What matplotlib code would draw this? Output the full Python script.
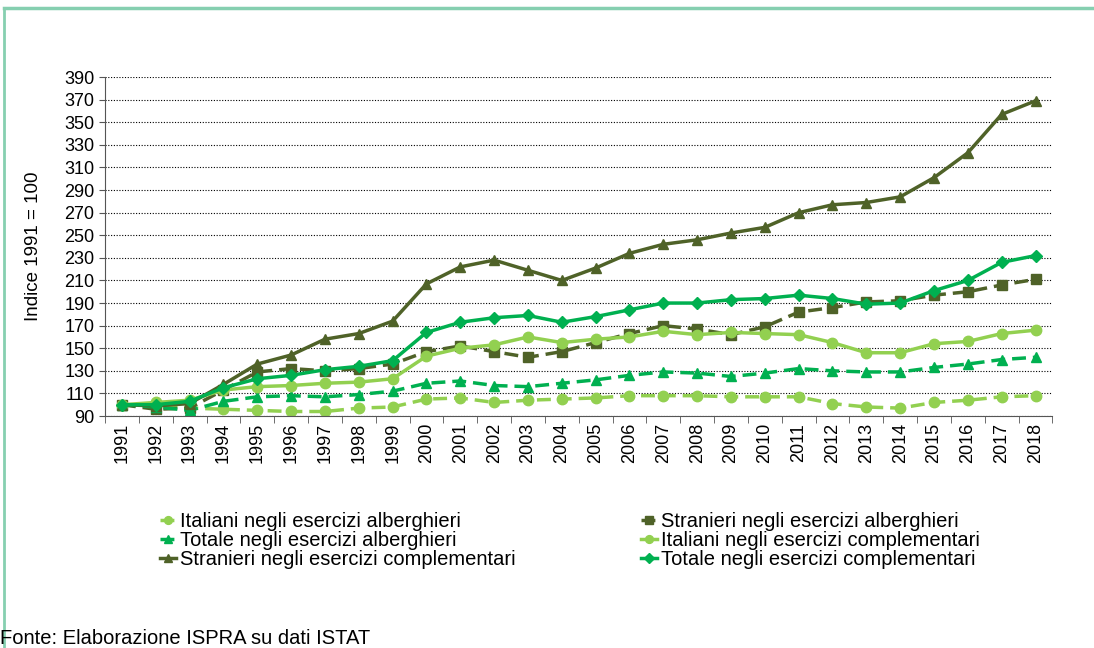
import numpy as np
import matplotlib.pyplot as plt
from matplotlib.lines import Line2D

anni = list(range(1991, 2019))

italiani_alb = [100, 99, 97, 96, 95, 94, 94, 97, 98, 105, 106, 102, 104, 105,
                106, 108, 108, 108, 107, 107, 107, 101, 98, 97, 102, 104, 107, 108]
stranieri_alb = [100, 96, 97, 113, 129, 132, 130, 132, 136, 147, 152, 147, 142, 147,
                 155, 163, 170, 167, 162, 169, 182, 186, 191, 192, 197, 200, 206, 211]
totale_alb = [100, 98, 95, 103, 107, 108, 107, 109, 112, 119, 121, 117, 116, 119,
              122, 126, 129, 128, 125, 128, 132, 130, 129, 129, 133, 136, 140, 142]
italiani_compl = [100, 102, 104, 113, 116, 117, 119, 120, 123, 143, 150, 153, 160, 155,
                  158, 160, 165, 162, 164, 163, 162, 155, 146, 146, 154, 156, 163, 166]
stranieri_compl = [100, 99, 101, 118, 136, 144, 158, 163, 174, 207, 222, 228, 219, 210,
                   221, 234, 242, 246, 252, 257, 270, 277, 279, 284, 301, 323, 357, 369]
totale_compl = [100, 100, 103, 115, 123, 126, 131, 134, 139, 164, 173, 177, 179, 173,
                178, 184, 190, 190, 193, 194, 197, 194, 189, 190, 201, 210, 226, 232]

etichette = ["Italiani negli esercizi alberghieri",
             "Stranieri negli esercizi alberghieri",
             "Totale negli esercizi alberghieri",
             "Italiani negli esercizi complementari",
             "Stranieri negli esercizi complementari",
             "Totale negli esercizi complementari"]

chiaro = "#92d050"
scuro = "#4f6228"
verde = "#00b050"

plt.rcParams['font.family'] = ['Liberation Sans', 'DejaVu Sans']

fig = plt.figure(figsize=(10.94, 6.48), dpi=100)
ax = fig.add_axes([0.096, 0.358, 0.866, 0.523])

serie = [
    (italiani_alb, chiaro, '--', 'o', 7.5),
    (stranieri_alb, scuro, '--', 's', 7.5),
    (totale_alb, verde, '--', '^', 7.5),
    (italiani_compl, chiaro, '-', 'o', 7.5),
    (stranieri_compl, scuro, '-', '^', 7.5),
    (totale_compl, verde, '-', 'D', 6.5),
]
linee = []
for (vals, col, ls, mk, ms), lab in zip(serie, etichette):
    l, = ax.plot(anni, vals, color=col, linestyle=ls, marker=mk, markersize=ms,
                 linewidth=2.5, label=lab, dashes=(4, 2) if ls == '--' else (None, None))
    linee.append(l)

ax.set_ylim(90, 390)
ax.set_yticks(np.arange(90, 391, 20))
ax.set_xlim(1990.5, 2018.5)
ax.set_xticks(anni)
ax.set_xticklabels([str(a) for a in anni], rotation=90, fontsize=13)
ax.set_xticks(np.arange(1990.5, 2019, 1), minor=True)
ax.tick_params(axis='x', which='major', length=0, pad=5)
ax.tick_params(axis='x', which='minor', length=5, color='#555555')
ax.tick_params(axis='y', labelsize=13, length=4, color='#555555')
ax.grid(axis='y', color='black', linestyle=(0, (1, 1.5)), linewidth=0.8)
ax.set_axisbelow(True)
for s in ['top', 'right']:
    ax.spines[s].set_visible(False)
ax.spines['left'].set_color('#555555')
ax.spines['bottom'].set_color('#555555')
ax.set_ylabel("Indice 1991 = 100", fontsize=13.5, labelpad=16)

# due colonne di legenda posizionate separatamente
stile_leg = dict(loc='upper left', frameon=False, handlelength=0.8,
                 handletextpad=0.2, labelspacing=0.0, markerscale=0.75,
                 prop={'size': 14.5})
leg1 = ax.legend([linee[i] for i in [0, 2, 4]], [etichette[i] for i in [0, 2, 4]],
                 bbox_to_anchor=(0.13, 0.238), bbox_transform=fig.transFigure, **stile_leg)
ax.add_artist(leg1)
ax.legend([linee[i] for i in [1, 3, 5]], [etichette[i] for i in [1, 3, 5]],
          bbox_to_anchor=(0.5695, 0.238), bbox_transform=fig.transFigure, **stile_leg)

fig.text(0.0, 0.0, "Fonte: Elaborazione ISPRA su dati ISTAT",
         fontsize=14.5, ha='left', va='bottom')

bordo = "#86cfb0"
fig.add_artist(Line2D([0.004, 1.0], [0.987, 0.987], color=bordo, linewidth=2.5,
                      transform=fig.transFigure))
fig.add_artist(Line2D([0.004, 0.004], [0.0, 0.987], color=bordo, linewidth=2,
                      transform=fig.transFigure))

fig.savefig("out.png", dpi=100)
